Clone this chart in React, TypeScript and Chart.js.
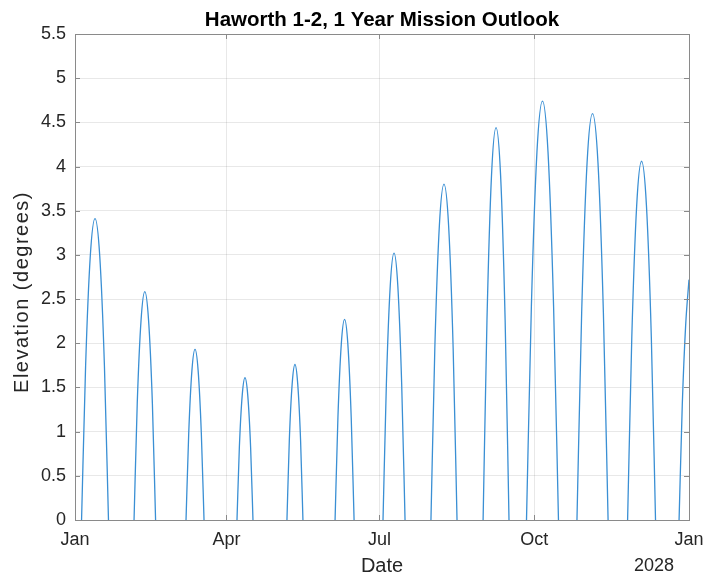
import React, { useEffect, useRef } from "react";
import { Chart, registerables } from "chart.js";

Chart.register(...registerables);

// ---- Data (days since 1 Jan 2027, elevation in degrees) ----
const lobe1 = [[3.9, 0], [6.3, 1.74], [9.1, 2.99], [11.9, 3.41], [14.7, 2.99], [17.5, 1.74], [19.9, 0]];
const lobe2 = [[35.1, 0], [37.0, 1.32], [39.3, 2.27], [41.5, 2.585], [43.7, 2.27], [46.0, 1.32], [47.9, 0]];
const lobe3 = [[66.0, 0], [67.6, 0.98], [69.5, 1.69], [71.35, 1.93], [73.2, 1.69], [75.1, 0.98], [76.7, 0]];
const lobe4 = [[96.3, 0], [97.7, 0.82], [99.4, 1.41], [101.05, 1.61], [102.7, 1.41], [104.4, 0.82], [105.8, 0]];
const lobe5 = [[126.0, 0], [127.4, 0.9], [129.1, 1.54], [130.75, 1.76], [132.4, 1.54], [134.1, 0.9], [135.5, 0]];
const lobe6 = [[154.6, 0], [156.3, 1.16], [158.3, 1.99], [160.25, 2.27], [162.2, 1.99], [164.2, 1.16], [165.9, 0]];
const lobe7 = [[183.1, 0], [185.1, 1.54], [187.4, 2.65], [189.65, 3.02], [191.9, 2.65], [194.2, 1.54], [196.2, 0]];
const lobe8 = [[211.6, 0], [213.9, 1.94], [216.6, 3.33], [219.35, 3.8], [222.1, 3.33], [224.8, 1.94], [227.1, 0]];
const lobe9 = [[242.6, 0], [244.9, 2.26], [247.6, 3.9], [250.3, 4.44], [253.0, 3.9], [255.7, 2.26], [258.0, 0]];
const lobe10 = [[268.4, 0], [271.3, 2.42], [274.6, 4.16], [277.9, 4.74], [281.2, 4.16], [284.5, 2.42], [287.4, 0]];
const lobe11 = [[298.4, 0], [301.2, 2.35], [304.4, 4.04], [307.65, 4.6], [310.9, 4.04], [314.1, 2.35], [316.9, 0]];
const lobe12 = [[328.5, 0], [331.0, 2.07], [333.9, 3.56], [336.8, 4.06], [339.7, 3.56], [342.6, 2.07], [345.1, 0]];
const lobe13 = [[359.1, 0], [361.0, 1.3], [363.0, 2.2], [365.0, 2.72]];

const lobes = [lobe1, lobe2, lobe3, lobe4, lobe5, lobe6, lobe7, lobe8, lobe9, lobe10, lobe11, lobe12, lobe13];

const xTickDays = [0, 90, 181, 273, 365];
const xTickLabels = ["Jan", "Apr", "Jul", "Oct", "Jan"];
const yTicks = [0, 0.5, 1, 1.5, 2, 2.5, 3, 3.5, 4, 4.5, 5, 5.5];
const yTickLabels = ["0", "0.5", "1", "1.5", "2", "2.5", "3", "3.5", "4", "4.5", "5", "5.5"];

const titleText = "Haworth 1-2, 1 Year Mission Outlook";
const xTitle = "Date";
const yTitle = "Elevation (degrees)";
const yearLabel = "2028";

const FONT = "'Liberation Sans', Arial, Helvetica, sans-serif";
const AXIS_COLOR = "#8a8a8a";
const TEXT_COLOR = "#262626";

export default function App() {
  const ref = useRef<HTMLCanvasElement | null>(null);

  useEffect(() => {
    if (!ref.current) return;
    const points: any[] = [];
    lobes.forEach((lobe, i) => {
      lobe.forEach(([x, y]) => points.push({ x, y }));
      if (i < lobes.length - 1) {
        const next = lobes[i + 1];
        points.push({ x: (lobe[lobe.length - 1][0] + next[0][0]) / 2, y: null });
      }
    });

    const boxPlugin = {
      id: "boxPlugin",
      afterDraw(chart: any) {
        const { ctx, chartArea: a, scales } = chart;
        ctx.save();
        ctx.strokeStyle = AXIS_COLOR;
        ctx.lineWidth = 1;
        ctx.strokeRect(Math.round(a.left) + 0.5, Math.round(a.top) + 0.5, Math.round(a.right - a.left), Math.round(a.bottom - a.top));
        const tl = 5;
        ctx.beginPath();
        xTickDays.forEach((d) => {
          const x = Math.round(scales.x.getPixelForValue(d)) + 0.5;
          ctx.moveTo(x, a.bottom);
          ctx.lineTo(x, a.bottom - tl);
          ctx.moveTo(x, a.top);
          ctx.lineTo(x, a.top + tl);
        });
        yTicks.forEach((v) => {
          const y = Math.round(scales.y.getPixelForValue(v)) + 0.5;
          ctx.moveTo(a.left, y);
          ctx.lineTo(a.left + tl, y);
          ctx.moveTo(a.right, y);
          ctx.lineTo(a.right - tl, y);
        });
        ctx.stroke();

        ctx.fillStyle = "#000";
        ctx.textBaseline = "middle";
        ctx.textAlign = "center";
        ctx.font = `bold 20.5px ${FONT}`;
        ctx.fillText(titleText, (a.left + a.right) / 2, 20);

        ctx.fillStyle = TEXT_COLOR;
        ctx.font = `20px ${FONT}`;
        ctx.fillText(xTitle, (a.left + a.right) / 2, 566);
        ctx.font = `18px ${FONT}`;
        ctx.textAlign = "right";
        ctx.fillText(yearLabel, 674, 566);

        ctx.save();
        ctx.translate(22, 292);
        ctx.rotate(-Math.PI / 2);
        ctx.font = `20px ${FONT}`;
        try { (ctx as any).letterSpacing = "1.5px"; } catch (e) {}
        ctx.textAlign = "center";
        ctx.fillText(yTitle, 0, 0);
        ctx.restore();
        ctx.restore();
      },
    };

    const chart = new Chart(ref.current, {
      type: "line",
      data: {
        datasets: [
          {
            data: points,
            borderColor: "#3a8fd4",
            borderWidth: 1.3,
            pointRadius: 0,
            fill: false,
            spanGaps: false,
            cubicInterpolationMode: "monotone",
          },
        ],
      },
      options: {
        responsive: false,
        maintainAspectRatio: false,
        animation: false,
        parsing: false as any,
        layout: { padding: { left: 0, right: 17, top: 34, bottom: 0 } },
        plugins: {
          legend: { display: false },
          tooltip: { enabled: false },
          title: { display: false },
        },
        scales: {
          x: {
            type: "linear",
            min: 0,
            max: 365,
            afterBuildTicks: (scale: any) => {
              scale.ticks = xTickDays.map((v) => ({ value: v }));
            },
            afterFit: (scale: any) => {
              scale.height = 57;
              scale.paddingLeft = 0;
              scale.paddingRight = 0;
            },
            ticks: {
              autoSkip: false,
              maxRotation: 0,
              padding: 9,
              color: TEXT_COLOR,
              font: { family: FONT, size: 18 },
              callback: (_v: any, i: number) => xTickLabels[i],
            },
            grid: { color: "rgba(0,0,0,0.09)", drawTicks: false },
            border: { display: false },
          },
          y: {
            type: "linear",
            min: 0,
            max: 5.5,
            afterBuildTicks: (scale: any) => {
              scale.ticks = yTicks.map((v) => ({ value: v }));
            },
            afterFit: (scale: any) => {
              scale.width = 75;
              scale.paddingTop = 0;
              scale.paddingBottom = 0;
            },
            ticks: {
              autoSkip: false,
              padding: 9,
              color: TEXT_COLOR,
              font: { family: FONT, size: 18 },
              callback: (_v: any, i: number) => yTickLabels[i],
            },
            grid: { color: "rgba(0,0,0,0.09)", drawTicks: false },
            border: { display: false },
          },
        },
      } as any,
      plugins: [boxPlugin],
    });
    return () => chart.destroy();
  }, []);

  return (
    <div style={{ position: "fixed", left: 0, top: 0, width: 706, height: 577, background: "#fff" }}>
      <canvas ref={ref} width={706} height={577} style={{ width: 706, height: 577 }} />
    </div>
  );
}
